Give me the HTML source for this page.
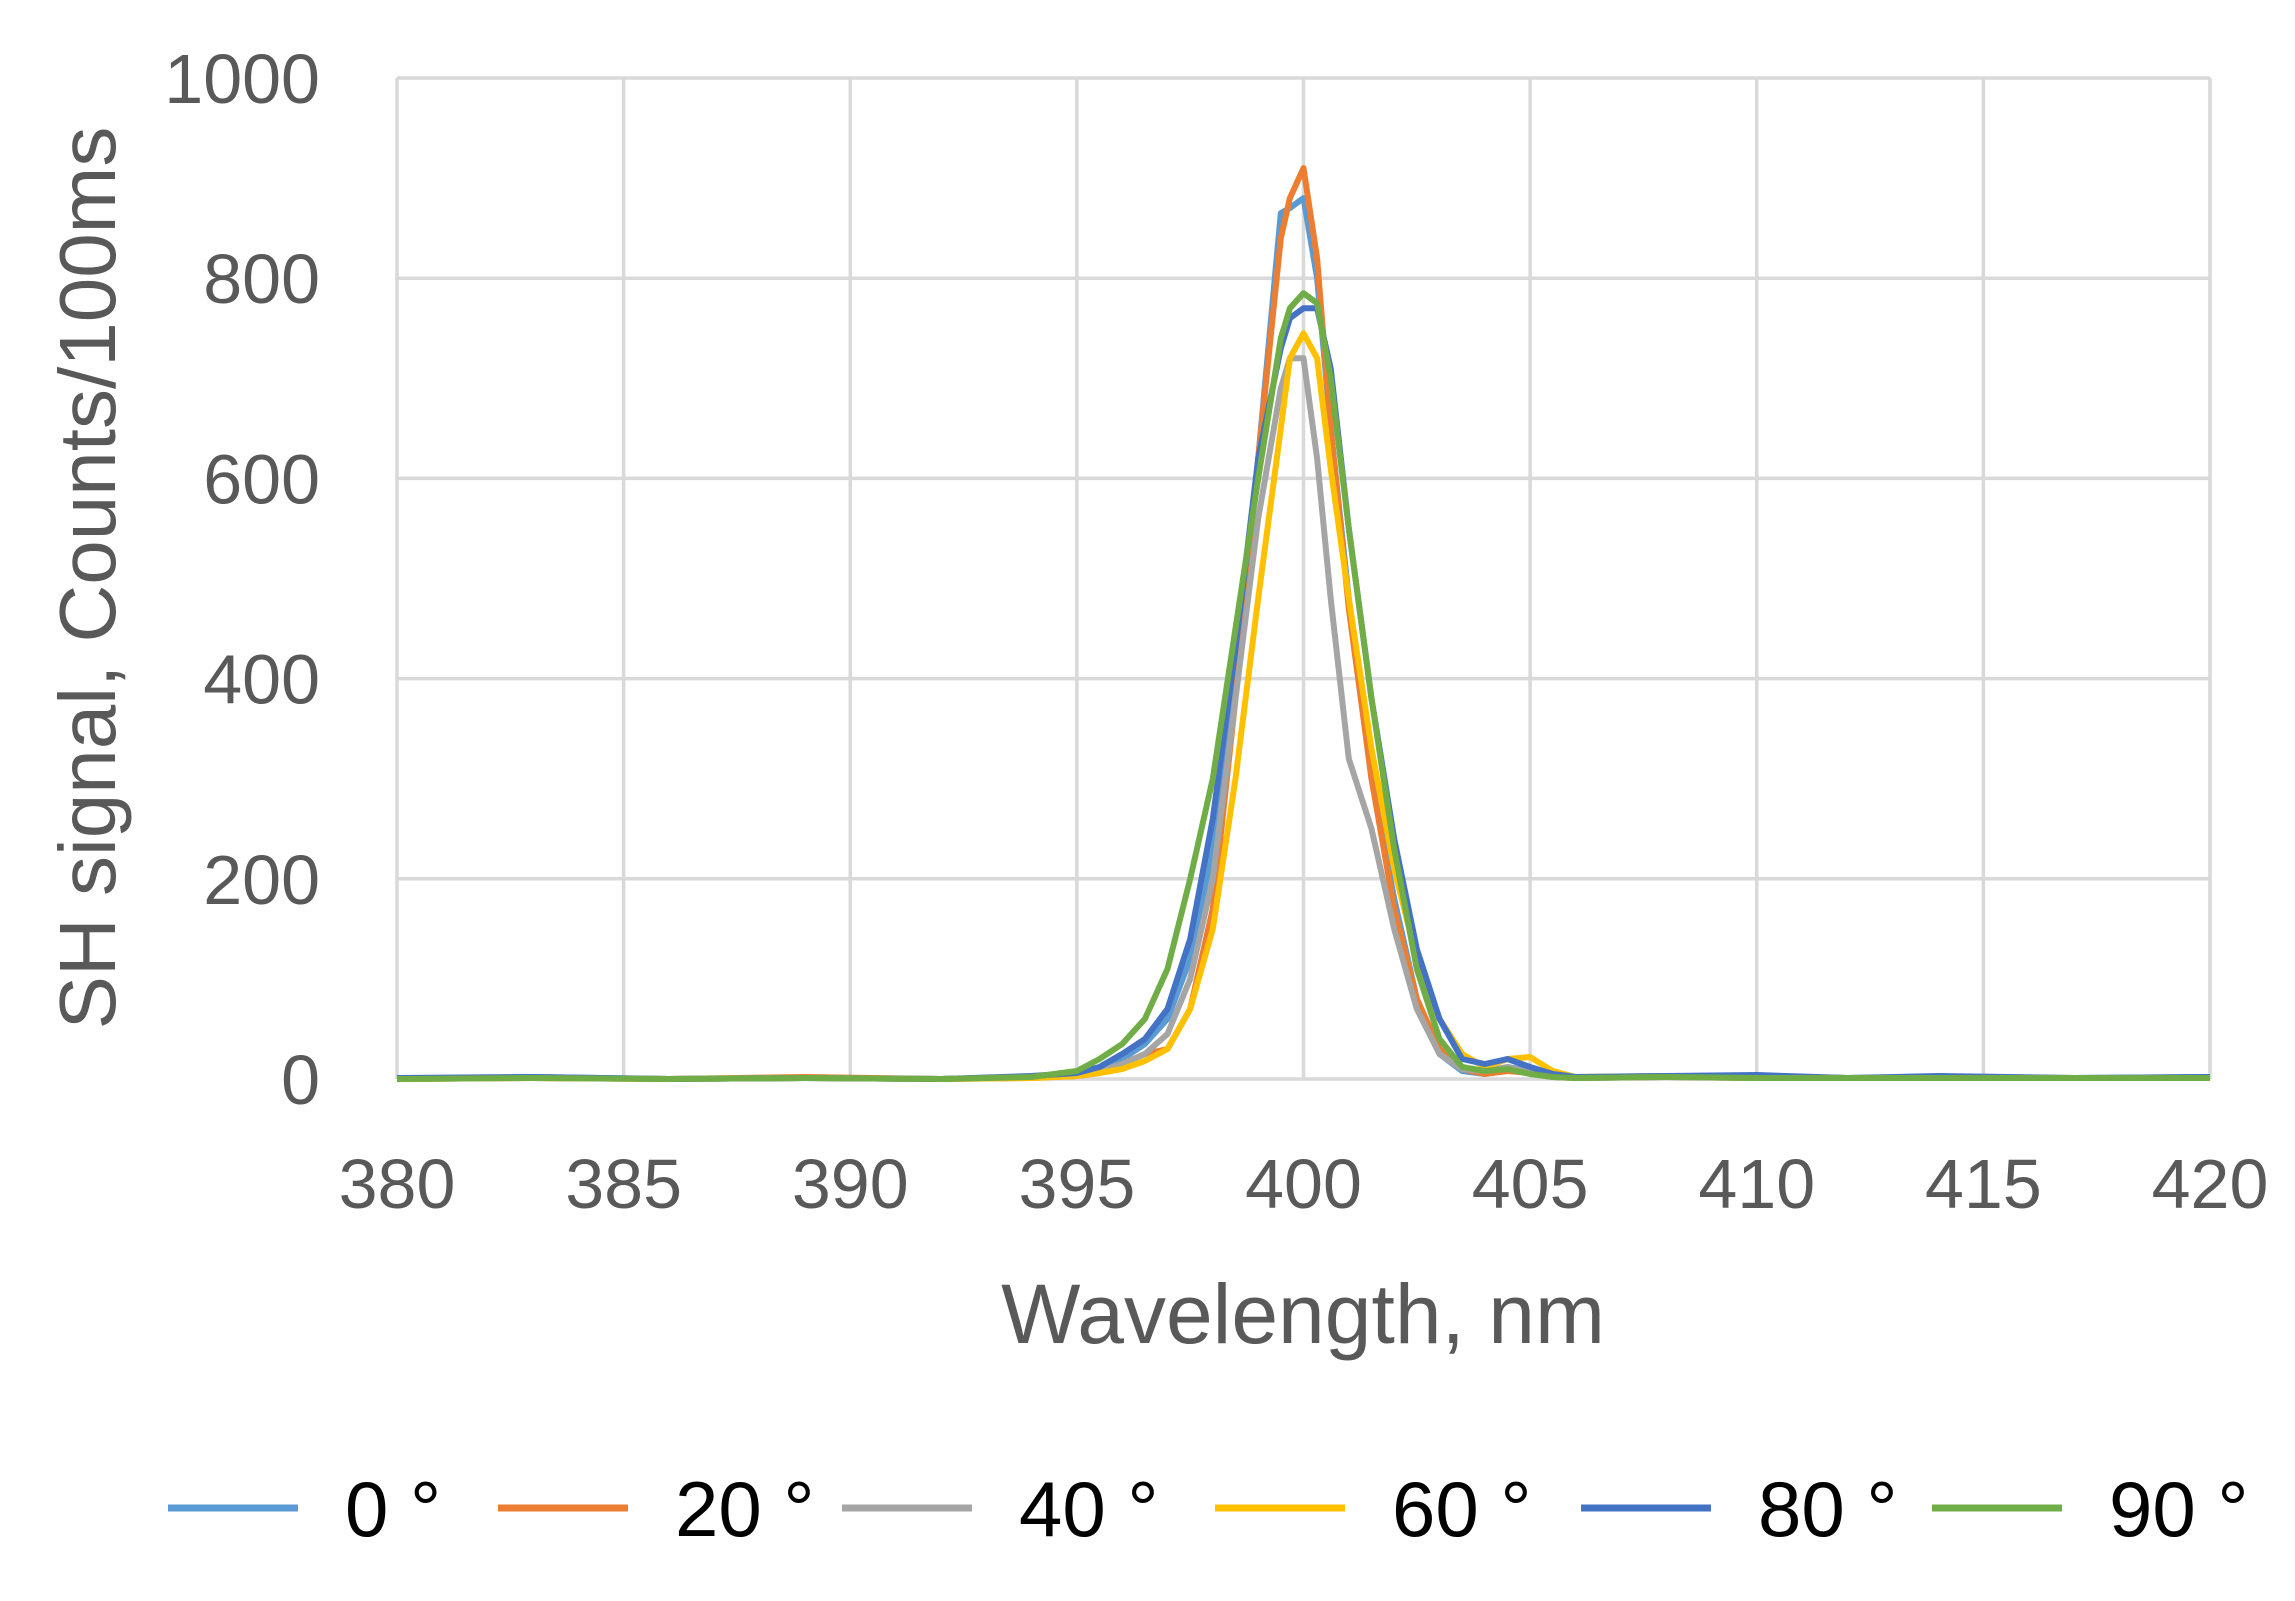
<!DOCTYPE html>
<html><head><meta charset="utf-8"><style>
html,body{margin:0;padding:0;background:#fff;}
svg{display:block;font-family:"Liberation Sans",sans-serif;}
</style></head><body>
<svg id="chart" width="2295" height="1601" viewBox="0 0 2295 1601" xmlns="http://www.w3.org/2000/svg">
<g id="grid"></g>
<g id="series"></g>
<g id="labels"></g>
<text x="1303" y="1343" text-anchor="middle" font-size="84" fill="#595959">Wavelength, nm</text>
<text transform="translate(115,578) rotate(-90)" text-anchor="middle" font-size="80" fill="#595959">SH signal, Counts/100ms</text>
<g id="legend"></g>
</svg>
<script>
const wavelengths = [380,383,386,389,392,394,395,395.5,396,396.5,397,397.5,398,398.5,399,399.5,399.7,400,400.3,400.6,401,401.5,402,402.5,403,403.5,404,404.5,405,405.5,406,408,410,412,414,417,420];
const s0 = [0,2,0,1,0,2,5,10,20,35,60,120,230,400,620,865,870,880,800,650,480,300,180,80,25,8,5,12,8,3,1,2,3,1,2,1,2];
const s20 = [0,1,0,2,0,1,3,6,15,25,30,70,170,380,620,840,880,910,820,650,470,300,170,80,30,10,5,8,6,2,1,2,1,1,1,1,1];
const s40 = [0,1,0,1,0,2,4,8,15,25,45,100,200,380,560,690,720,720,620,480,320,250,150,70,25,10,8,12,6,2,1,2,1,1,1,1,1];
const s60 = [0,1,0,1,0,1,3,6,10,18,30,70,150,300,480,650,720,745,720,610,480,330,210,120,60,25,12,20,22,8,2,3,2,1,2,1,1];
const s80 = [1,2,0,1,0,3,6,12,25,40,70,140,260,430,620,730,760,770,770,710,550,380,240,130,60,20,15,20,12,5,2,3,4,1,3,1,2];
const s90 = [0,1,0,1,0,2,8,20,35,60,110,200,300,450,600,740,770,785,775,700,550,380,230,110,40,12,8,10,5,2,1,2,1,1,1,1,1];
const seriesNames = ["0 °","20 °","40 °","60 °","80 °","90 °"];
const xTicks = [380,385,390,395,400,405,410,415,420];
const yTicks = [0,200,400,600,800,1000];

const colors = ["#5B9BD5","#ED7D31","#A5A5A5","#FFC000","#4472C4","#70AD47"];
const allSeries = [s0,s20,s40,s60,s80,s90];
const L=397,R=2210,T=78,B=1079;
const xs = v => L + (v-380)/40*(R-L);
const ys = v => B - v/1000*(B-T);
const NS="http://www.w3.org/2000/svg";
function mk(tag, attrs, parent){const e=document.createElementNS(NS,tag);for(const k in attrs)e.setAttribute(k,attrs[k]);parent.appendChild(e);return e;}
const grid=document.getElementById('grid'), lab=document.getElementById('labels');
yTicks.forEach(t=>{
  const l=mk('line',{x1:L,x2:R,y1:ys(t),y2:ys(t),stroke:'#d9d9d9','stroke-width':3.5},grid);
  
  
  const tx=mk('text',{x:320,y:ys(t)+25,'text-anchor':'end','font-size':70,fill:'#595959'},lab);
  tx.textContent=t;
  
  
});
xTicks.forEach(t=>{
  const l=mk('line',{x1:xs(t),x2:xs(t),y1:T,y2:B,stroke:'#d9d9d9','stroke-width':3.5},grid);
  
  
  const tx=mk('text',{x:xs(t),y:1208,'text-anchor':'middle','font-size':70,fill:'#595959'},lab);
  tx.textContent=t;
  
  
});
const sg=document.getElementById('series');
allSeries.forEach((s,i)=>{
  const d=s.map((v,j)=>(j?'L':'M')+xs(wavelengths[j]).toFixed(1)+','+ys(v).toFixed(1)).join(' ');
  const p=mk('path',{d:d,fill:'none',stroke:colors[i],'stroke-width':6,'stroke-linejoin':'round'},sg);
  
  
});
const lg=document.getElementById('legend');
const legX=[168,498,842,1215,1581,1932];
seriesNames.forEach((n,i)=>{
  const l=mk('line',{x1:legX[i],x2:legX[i]+130,y1:1508,y2:1508,stroke:colors[i],'stroke-width':7},lg);
  
  
  const t=mk('text',{x:legX[i]+177,y:1536,'font-size':78,fill:'#000'},lg);
  t.textContent=n;
  
  
});
</script>
</body></html>
